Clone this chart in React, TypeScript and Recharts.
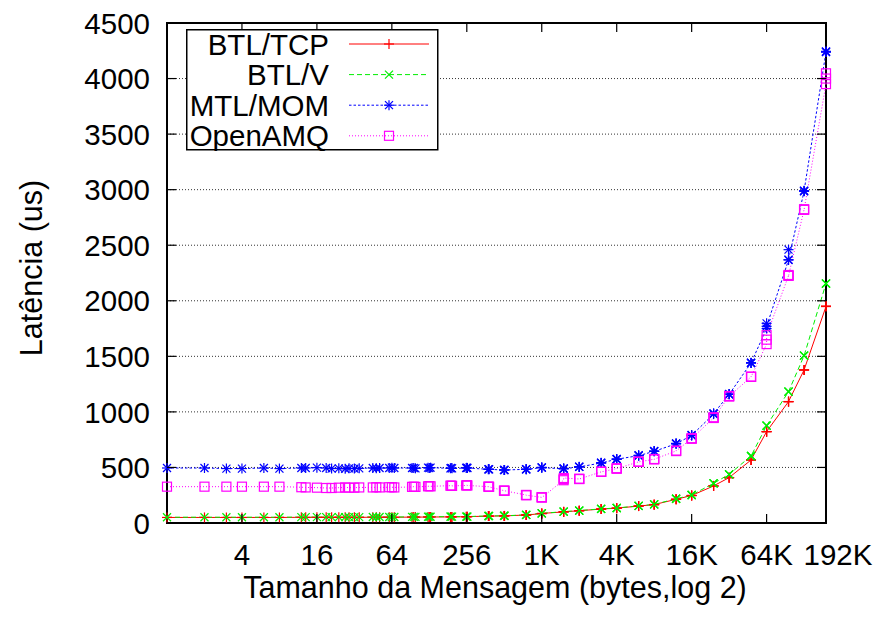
import React from "react";
import { LineChart, Line, XAxis, YAxis, CartesianGrid, Legend, ReferenceArea } from "recharts";

// message sizes in bytes (NetPIPE style, +-3 perturbation)
const sizes = [
  1, 2, 3, 4, 6, 8, 12, 13, 16, 19, 21, 24, 27, 29, 32, 35, 45, 48, 51, 61, 64, 67, 93, 96, 99,
  125, 128, 131, 189, 192, 195, 253, 256, 259, 381, 384, 387, 509, 512, 515, 765, 768, 771,
  1021, 1024, 1027, 1533, 1536, 1539, 2045, 2048, 2051, 3069, 3072, 3075, 4093, 4096, 4099,
  6141, 6144, 6147, 8189, 8192, 8195, 12285, 12288, 12291, 16381, 16384, 16387,
  24573, 24576, 24579, 32765, 32768, 32771, 49149, 49152, 49155, 65533, 65536, 65539,
  98301, 98304, 98307, 131069, 131072, 131075, 196605, 196608, 196611,
];

const btlTcp = [
  50, 50, 50, 50, 50, 50, 51, 51, 51, 51, 51, 51, 51, 51, 51, 51, 52, 52, 52, 52, 52, 52, 53, 53, 53,
  54, 54, 54, 55, 55, 55, 56, 56, 57, 62, 62, 62, 64, 64, 64, 72, 72, 72,
  85, 85, 86, 100, 100, 101, 110, 110, 111, 125, 125, 126, 133, 133, 134,
  152, 152, 153, 165, 165, 166, 213, 213, 214, 247, 247, 248,
  333, 333, 334, 408, 408, 409, 567, 567, 568, 822, 822, 823,
  1092, 1092, 1093, 1377, 1377, 1378, 1948, 1950, 1952,
];

const btlV = [
  52, 52, 52, 52, 52, 52, 53, 53, 53, 53, 53, 53, 53, 53, 53, 53, 54, 54, 54, 54, 54, 54, 55, 55, 55,
  56, 56, 56, 57, 57, 57, 58, 58, 58, 63, 63, 63, 65, 65, 65, 73, 73, 73,
  87, 87, 87, 102, 102, 102, 112, 112, 112, 127, 127, 127, 135, 135, 135,
  154, 154, 154, 167, 167, 167, 218, 218, 218, 252, 252, 252,
  357, 357, 357, 438, 438, 438, 603, 603, 603, 876, 876, 876,
  1182, 1182, 1182, 1506, 1506, 1506, 2155, 2157, 2155,
];

const mtlMom = [
  495, 495, 490, 490, 495, 490, 495, 495, 498, 495, 490, 492, 488, 492, 490, 492, 495, 492, 495, 495, 498, 495, 495, 495, 492,
  498, 495, 498, 492, 495, 492, 495, 498, 495, 483, 485, 483, 477, 478, 477, 483, 485, 483,
  498, 501, 498, 488, 492, 488, 505, 507, 505, 540, 543, 540, 574, 576, 574,
  606, 610, 606, 645, 648, 645, 713, 717, 713, 788, 792, 788,
  980, 987, 984, 1158, 1161, 1158, 1440, 1443, 1440, 1750, 1797, 1770,
  2367, 2460, 2370, 2985, 2991, 2988, 4240, 4245, 4238,
];

const openAmq = [
  327, 327, 327, 327, 327, 327, 322, 320, 318, 315, 315, 318, 320, 318, 318, 320, 320, 322, 320, 322, 322, 320, 325, 327, 325,
  330, 332, 330, 336, 336, 334, 338, 340, 338, 327, 327, 325, 291, 291, 290, 252, 252, 250,
  231, 231, 230, 385, 395, 405, 396, 398, 396, 460, 462, 460, 490, 492, 490,
  550, 552, 550, 574, 576, 574, 648, 651, 648, 760, 762, 760,
  945, 951, 948, 1140, 1143, 1140, 1315, 1317, 1315, 1610, 1650, 1690,
  2225, 2232, 2225, 2820, 2823, 2820, 3950, 4047, 4000,
];

const xTicks = [4, 16, 64, 256, 1024, 4096, 16384, 65536, 196608];
const xTickLabels = ["4", "16", "64", "256", "1K", "4K", "16K", "64K", "192K"];
const yTicks = [0, 500, 1000, 1500, 2000, 2500, 3000, 3500, 4000, 4500];

const data = sizes.map((size, i) => ({
  size,
  tcp: btlTcp[i],
  v: btlV[i],
  mom: mtlMom[i],
  amq: openAmq[i],
}));

const FONT = "'Liberation Sans', Arial, Helvetica, sans-serif";
const FS = 29.5;
const TITLE_FS = 30.5;
const LEFT = 167;
const RIGHT = 826;
const TOP = 23;
const BOTTOM = 523;
const TICK = 9;

type MarkProps = { cx?: number; cy?: number; color: string };

function Plus({ cx = 0, cy = 0, color }: MarkProps) {
  return (
    <g stroke={color} strokeWidth={1.2}>
      <line x1={cx - 5} y1={cy} x2={cx + 5} y2={cy} />
      <line x1={cx} y1={cy - 5} x2={cx} y2={cy + 5} />
    </g>
  );
}

function Cross({ cx = 0, cy = 0, color }: MarkProps) {
  return (
    <g stroke={color} strokeWidth={1.2}>
      <line x1={cx - 4} y1={cy - 4} x2={cx + 4} y2={cy + 4} />
      <line x1={cx - 4} y1={cy + 4} x2={cx + 4} y2={cy - 4} />
    </g>
  );
}

function Star({ cx = 0, cy = 0, color }: MarkProps) {
  return (
    <g stroke={color} strokeWidth={1.2}>
      <line x1={cx - 5} y1={cy} x2={cx + 5} y2={cy} />
      <line x1={cx} y1={cy - 5} x2={cx} y2={cy + 5} />
      <line x1={cx - 4} y1={cy - 4} x2={cx + 4} y2={cy + 4} />
      <line x1={cx - 4} y1={cy + 4} x2={cx + 4} y2={cy - 4} />
    </g>
  );
}

function Square({ cx = 0, cy = 0, color }: MarkProps) {
  return <rect x={cx - 4.5} y={cy - 4.5} width={9} height={9} fill="none" stroke={color} strokeWidth={1.2} />;
}

const series = [
  { key: "tcp", name: "BTL/TCP", color: "#ff0000", dash: undefined, mark: Plus },
  { key: "v", name: "BTL/V", color: "#00ee00", dash: "5 3", mark: Cross },
  { key: "mom", name: "MTL/MOM", color: "#0000ff", dash: "2.5 2", mark: Star },
  { key: "amq", name: "OpenAMQ", color: "#ff00ff", dash: "1 2", mark: Square },
];

function XTick(props: any) {
  const { x, payload } = props;
  const idx = xTicks.indexOf(payload.value);
  const label = xTickLabels[idx] ?? "";
  const dx = payload.value === 196608 ? 12 : 0;
  return (
    <g>
      <line x1={x} y1={BOTTOM} x2={x} y2={BOTTOM - TICK} stroke="#000" strokeWidth={1.2} />
      <line x1={x} y1={TOP} x2={x} y2={TOP + TICK} stroke="#000" strokeWidth={1.2} />
      <text x={x + dx} y={565} textAnchor="middle" fontSize={FS} fontFamily={FONT} fill="#000">
        {label}
      </text>
    </g>
  );
}

function YTick(props: any) {
  const { y, payload } = props;
  return (
    <g>
      <line x1={LEFT} y1={y} x2={LEFT + TICK} y2={y} stroke="#000" strokeWidth={1.2} />
      <line x1={RIGHT - TICK} y1={y} x2={RIGHT} y2={y} stroke="#000" strokeWidth={1.2} />
      <text x={150} y={y} dy="0.36em" textAnchor="end" fontSize={FS} fontFamily={FONT} fill="#000">
        {payload.value}
      </text>
    </g>
  );
}

function YTitle() {
  return (
    <text
      x={42}
      y={268}
      transform="rotate(-90 42 268)"
      textAnchor="middle"
      fontSize={TITLE_FS}
      fontFamily={FONT}
      fill="#000"
    >
      Latência (us)
    </text>
  );
}

function XTitle() {
  return (
    <text x={495} y={598} textAnchor="middle" fontSize={TITLE_FS} fontFamily={FONT} fill="#000">
      Tamanho da Mensagem (bytes,log 2)
    </text>
  );
}

function LegendBox() {
  return (
    <svg width={253} height={122} style={{ display: "block" }}>
      <rect x={0.75} y={0.75} width={251} height={120} fill="#fff" stroke="#000" strokeWidth={1.5} />
      {series.map((s, i) => {
        const y = 15 + i * 30.6;
        const Mark = s.mark;
        return (
          <g key={s.key}>
            <text x={143} y={y} dy="0.36em" textAnchor="end" fontSize={FS} fontFamily={FONT} fill="#000">
              {s.name}
            </text>
            <line x1={163} y1={y} x2={243} y2={y} stroke={s.color} strokeDasharray={s.dash} />
            <Mark cx={203} cy={y} color={s.color} />
          </g>
        );
      })}
    </svg>
  );
}

export default function App() {
  return (
    <div style={{ position: "absolute", left: 0, top: 0, width: 878, height: 617, background: "#fff" }}>
      <LineChart width={878} height={617} data={data} margin={{ top: TOP, right: 878 - RIGHT, bottom: 0, left: 0 }}>
        <CartesianGrid vertical={false} stroke="#333" strokeDasharray="1 2" />
        <XAxis
          dataKey="size"
          type="number"
          scale="log"
          domain={[1, 196608]}
          ticks={xTicks}
          interval={0}
          tickSize={0}
          tickMargin={0}
          tickLine={false}
          tick={(p: any) => <XTick {...p} />}
          axisLine={{ stroke: "#000", strokeWidth: 2 }}
          height={617 - BOTTOM}
          label={{ content: () => <XTitle /> }}
        />
        <YAxis
          type="number"
          domain={[0, 4500]}
          ticks={yTicks}
          interval={0}
          width={LEFT}
          tickSize={0}
          tickMargin={0}
          tickLine={false}
          tick={(p: any) => <YTick {...p} />}
          axisLine={{ stroke: "#000", strokeWidth: 2 }}
          label={{ content: () => <YTitle /> }}
        />
        <ReferenceArea x1={1} x2={196608} y1={0} y2={4500} fill="none" stroke="#000" strokeWidth={2} ifOverflow="visible" />
        {series.map((s) => {
          const Mark = s.mark;
          return (
            <Line
              key={s.key}
              type="linear"
              dataKey={s.key}
              name={s.name}
              stroke={s.color}
              strokeWidth={1}
              strokeDasharray={s.dash}
              isAnimationActive={false}
              dot={(p: any) => <Mark key={`${s.key}-${p.index}`} cx={p.cx} cy={p.cy} color={s.color} />}
              activeDot={false}
            />
          );
        })}
        <Legend
          layout="vertical"
          align="center"
          verticalAlign="middle"
          content={() => <LegendBox />}
          wrapperStyle={{ left: 186, top: 29, width: 253, height: 122 }}
        />
      </LineChart>
    </div>
  );
}
